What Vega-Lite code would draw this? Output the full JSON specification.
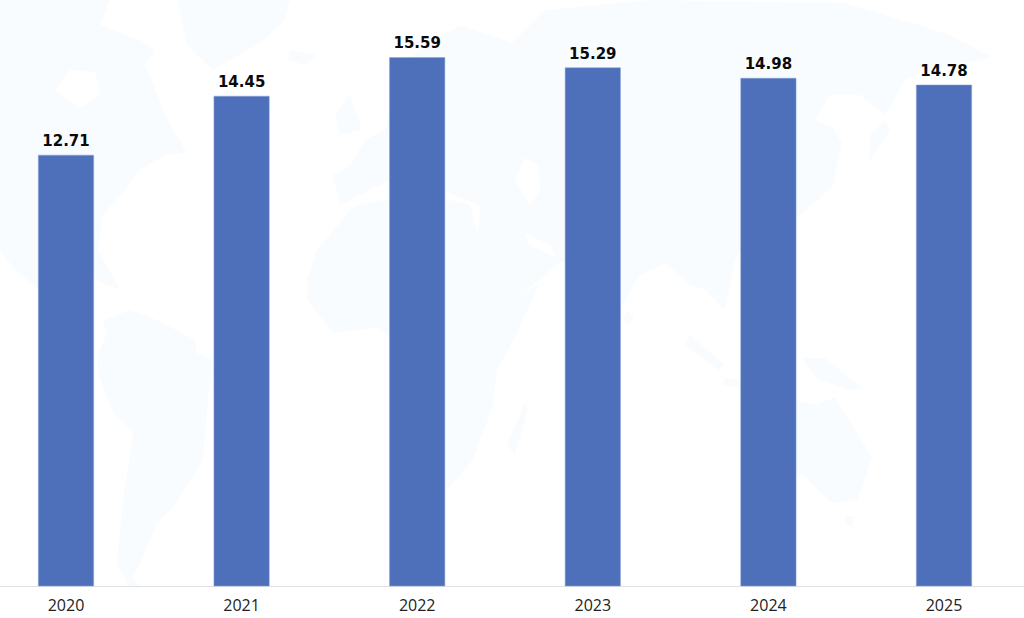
{"$schema":"https://vega.github.io/schema/vega-lite/v6.json","width":1024,"height":586,"autosize":{"type":"none"},"padding":{"left":0,"top":0,"right":0,"bottom":32},"background":"white","config":{"view":{"stroke":null}},"layer":[{"data":{"values":{"type":"FeatureCollection","features":[
{"type":"Feature","properties":{"name":"North America"},"geometry":{"type":"Polygon","coordinates":[[[-200,150],[-145,150],[-150,137.5],[-130,130],[-122.5,125],[-127.5,117.5],[-115,87.5],[-106.5,73.5],[-117.5,72.5],[-130,65],[-137.5,55],[-148.5,42.5],[-151,25],[-140,5],[-150,9],[-162.5,17.5],[-180,5],[-192.5,15],[-200,25],[-200,150]],[[-165,115],[-172.5,105],[-160,96],[-150,102.5],[-152.5,114],[-165,115]]]}},
{"type":"Feature","properties":{"name":"Greenland"},"geometry":{"type":"Polygon","coordinates":[[[-111.5,150],[-55,150],[-57.5,140],[-70,128.5],[-93.5,115],[-106.5,127.5],[-111.5,150]]]}},
{"type":"Feature","properties":{"name":"Iceland"},"geometry":{"type":"Polygon","coordinates":[[[-55,125],[-41.5,122.5],[-47.5,117.5],[-56,120],[-55,125]]]}},
{"type":"Feature","properties":{"name":"Britain"},"geometry":{"type":"Polygon","coordinates":[[[-32.5,92.5],[-25,102.5],[-19,85],[-30,82.5],[-32.5,92.5]]]}},
{"type":"Feature","properties":{"name":"South America"},"geometry":{"type":"Polygon","coordinates":[[[-148.5,-10],[-135,-5],[-121.5,-10],[-102.5,-20],[-101.5,-26.5],[-93.5,-30],[-95,-40],[-98.5,-80],[-110,-98.5],[-113.5,-103.5],[-121.5,-111.5],[-128.5,-128.5],[-133.5,-138.5],[-126.5,-148.5],[-133.5,-148.5],[-141.5,-131.5],[-138.5,-100],[-133.5,-66.5],[-143.5,-56.5],[-151,-36.5],[-151.5,-28.5],[-146.5,-16.5],[-148.5,-10]]]}},
{"type":"Feature","properties":{"name":"Africa"},"geometry":{"type":"Polygon","coordinates":[[[-46.5,0],[-33.5,-16.5],[-11.5,-14],[-5,-18.5],[10,-50],[23.5,-95],[36.5,-80],[40,-70],[46.5,-53.5],[48.5,-35],[56,-21.5],[66,0],[69,7.5],[60,2.5],[52.5,5],[39,32.5],[35,47.5],[15,52.5],[-8.5,50],[-23.5,46.5],[-41.5,25],[-46.5,10],[-46.5,0]]]}},
{"type":"Feature","properties":{"name":"Madagascar"},"geometry":{"type":"Polygon","coordinates":[[[53.5,-72.5],[62.5,-51.5],[64,-55],[57.5,-77.5],[53.5,-72.5]]]}},
{"type":"Feature","properties":{"name":"Eurasia"},"geometry":{"type":"Polygon","coordinates":[[[-30,47.5],[-33.5,62.5],[-25,67.5],[-17.5,80],[-7.5,85],[-2.5,102.5],[2.5,120],[30,137.5],[56,128.5],[72.5,145],[125,150],[222.5,148.5],[272.5,133.5],[296,121.5],[272.5,116.5],[252.5,110],[242.5,92.5],[230,102.5],[215,102.5],[207.5,90],[216,86.5],[221,78.5],[216,56.5],[199,41.5],[180,42.5],[167.5,20],[162.5,-5],[152.5,5],[145,7.5],[132.5,18.5],[120,12.5],[111,-2.5],[100,10],[95,17.5],[80,19],[70,10],[60,2.5],[52.5,5],[39,32.5],[40,47.5],[20,55],[10,62.5],[-5,60],[-20,52.5],[-30,47.5]],[[62.5,71],[57.5,60],[65,47.5],[70,55],[69,67.5],[62.5,71]],[[62.5,33.5],[65,27.5],[77.5,21.5],[75,27.5],[62.5,33.5]]]}},
{"type":"Feature","properties":{"name":"Japan"},"geometry":{"type":"Polygon","coordinates":[[[235,82.5],[242.5,90],[245,85],[235,70],[235,82.5]]]}},
{"type":"Feature","properties":{"name":"Sri Lanka"},"geometry":{"type":"Polygon","coordinates":[[[114,-5],[117,-9],[114,-13],[111.5,-9],[114,-5]]]}},
{"type":"Feature","properties":{"name":"Sumatra"},"geometry":{"type":"Polygon","coordinates":[[[145,-17.5],[162.5,-32.5],[159,-35],[142.5,-22.5],[145,-17.5]]]}},
{"type":"Feature","properties":{"name":"Java"},"geometry":{"type":"Polygon","coordinates":[[[162.5,-39],[185,-42.5],[184,-46],[161,-42.5],[162.5,-39]]]}},
{"type":"Feature","properties":{"name":"Borneo"},"geometry":{"type":"Polygon","coordinates":[[[170,-17.5],[185,-15],[187.5,-27.5],[175,-32.5],[170,-17.5]]]}},
{"type":"Feature","properties":{"name":"Philippines"},"geometry":{"type":"Polygon","coordinates":[[[190,2.5],[197.5,0],[195,-15],[187.5,-10],[190,2.5]]]}},
{"type":"Feature","properties":{"name":"New Guinea"},"geometry":{"type":"Polygon","coordinates":[[[201,-29],[212.5,-29],[231,-44],[225,-45],[207.5,-39],[201,-29]]]}},
{"type":"Feature","properties":{"name":"Australia"},"geometry":{"type":"Polygon","coordinates":[[[197.5,-50],[207.5,-52.5],[217.5,-48.5],[236,-78.5],[229,-100],[216,-101.5],[202.5,-88.5],[192.5,-85],[172.5,-92.5],[170,-75],[182.5,-60],[197.5,-50]]]}},
{"type":"Feature","properties":{"name":"Tasmania"},"geometry":{"type":"Polygon","coordinates":[[[222.5,-107.5],[227.5,-108.5],[226,-113.5],[223,-112.5],[222.5,-107.5]]]}}
]},"format":{"type":"json","property":"features"}},"projection":{"type":"identity","reflectY":true,"scale":2,"translate":[400,300]},"mark":{"type":"geoshape","fill":"#f9fcff","stroke":null}},
{"data":{"values":[{"year":"2020","value":12.71},{"year":"2021","value":14.45},{"year":"2022","value":15.59},{"year":"2023","value":15.29},{"year":"2024","value":14.98},{"year":"2025","value":14.78}]},"encoding":{"x":{"field":"year","type":"nominal","scale":{"type":"band","domain":["2020","2021","2022","2023","2024","2025"],"range":[-21.8,1031.8],"paddingInner":0.685,"paddingOuter":0.3425},"axis":{"title":null,"labelAngle":0,"ticks":false,"grid":false,"domainColor":"#dfe1e5","domainWidth":1,"labelColor":"#222222","labelFont":"Open Sans","labelFontSize":16,"labelPadding":11}},"y":{"field":"value","type":"quantitative","scale":{"domain":[0,17.286],"nice":false},"axis":null}},"layer":[{"mark":{"type":"bar","fill":"#4e70bb","stroke":"#86a0d8","strokeWidth":0.5}},{"mark":{"type":"text","baseline":"bottom","dy":-6,"font":"DejaVu Sans","fontWeight":"bold","fontSize":15,"color":"#0a0a0a"},"encoding":{"text":{"field":"value","type":"quantitative","format":".2f"}}}]}
]}
